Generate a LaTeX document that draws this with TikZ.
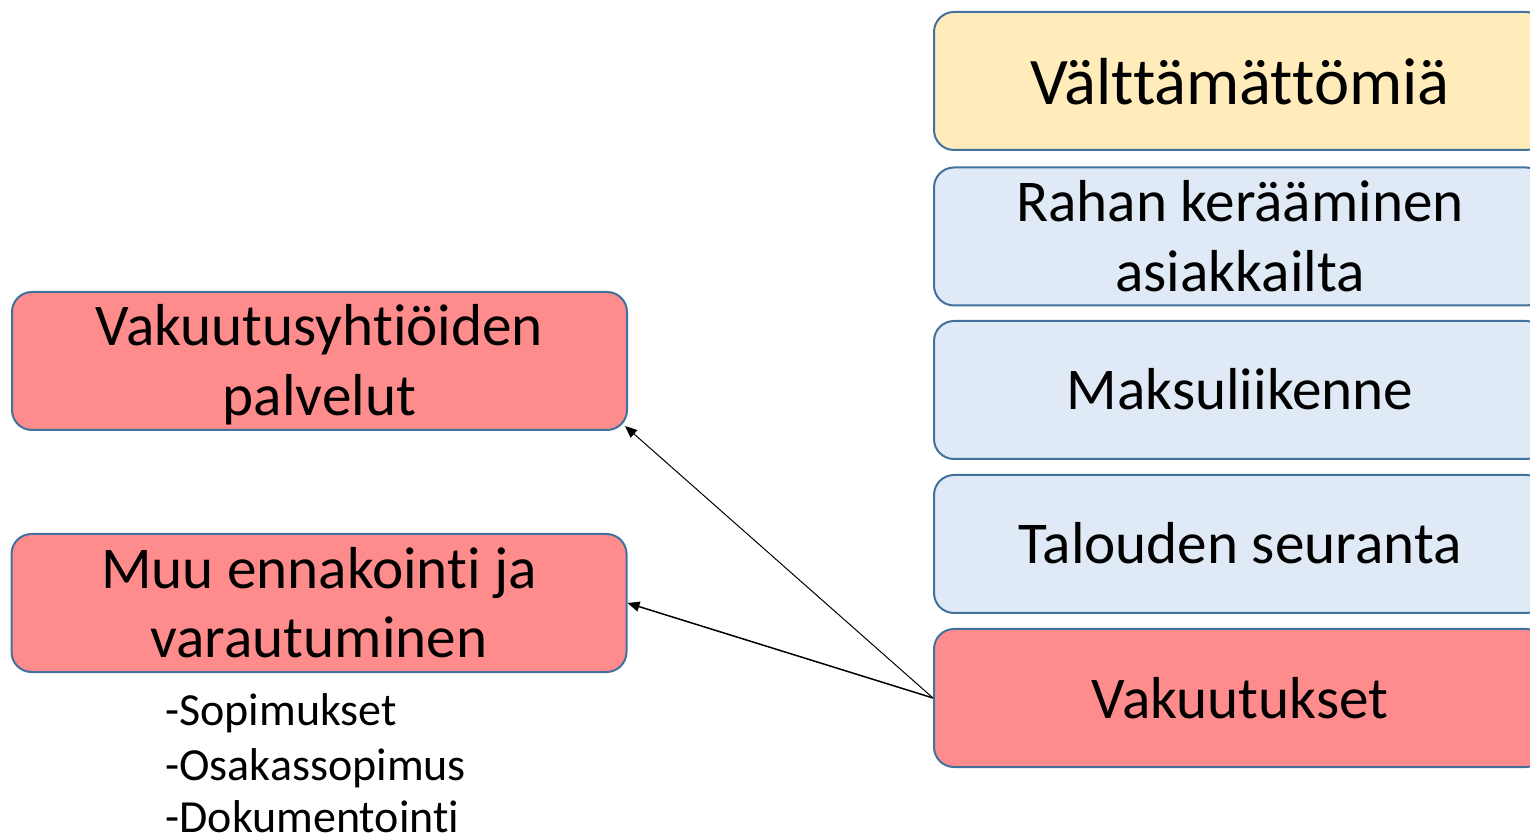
\documentclass[tikz,border=0pt]{standalone}
\usepackage{fontspec}
\setmainfont{Carlito}[RawFeature={-liga;-clig;-calt;-dlig}]
\usetikzlibrary{arrows.meta}
\definecolor{bordc}{HTML}{41719C}
\definecolor{yelf}{HTML}{FFECBA}
\definecolor{bluf}{HTML}{DFEAF6}
\definecolor{redf}{HTML}{FF8C8C}
\newcommand\lstrut{\rule[-7pt]{0pt}{34pt}}
\newcommand\tstrut{\rule[-5pt]{0pt}{34pt}}
\begin{document}
\begin{tikzpicture}[x=0.5pt,y=-0.5pt,
 box/.style={draw=bordc, line width=1pt, rounded corners=10pt, minimum height=69pt, align=center, inner sep=0pt, font=\fontsize{29.6}{35}\selectfont},
 rbox/.style={box, minimum width=306pt},
 lbox/.style={box, minimum width=307.5pt},
 conn/.style={line width=0.6pt, -{Triangle[length=6pt,width=5pt]}},
 item/.style={anchor=base west, inner sep=0pt, font=\fontsize{23}{27}\selectfont}]
\clip (0,0) rectangle (1530,838);
\node[rbox, fill=yelf, font=\fontsize{33.3}{38}\selectfont] (valt) at (1240,81) {\tstrut Välttämättömiä};
\node[rbox, fill=bluf] (rahan) at (1240,236.5) {\lstrut Rahan kerääminen\\\lstrut asiakkailta};
\node[rbox, fill=bluf] (maksu) at (1240,390) {\lstrut Maksuliikenne};
\node[rbox, fill=bluf] (talous) at (1240,544) {\lstrut Talouden seuranta};
\node[rbox, fill=redf] (vak) at (1240,698) {\lstrut Vakuutukset};
\node[lbox, fill=redf] (vs) at (319.5,361) {\lstrut Vakuutusyhtiöiden\\\lstrut palvelut};
\node[lbox, fill=redf] (muu) at (319,603) {\lstrut Muu ennakointi ja\\\lstrut varautuminen};
\node[item] (i1) at (165,725) {-Sopimukset};
\node[item] (i2) at (165,780) {-Osakassopimus};
\node[item] (i3) at (165,832) {-Dokumentointi};
\draw[conn, line width=0.5pt] (vak.west) -- ([xshift=-1.5pt,yshift=2.5pt]vs.south east);
\draw[conn, line width=0.75pt] (vak.west) -- (muu.east);
\end{tikzpicture}
\end{document}
